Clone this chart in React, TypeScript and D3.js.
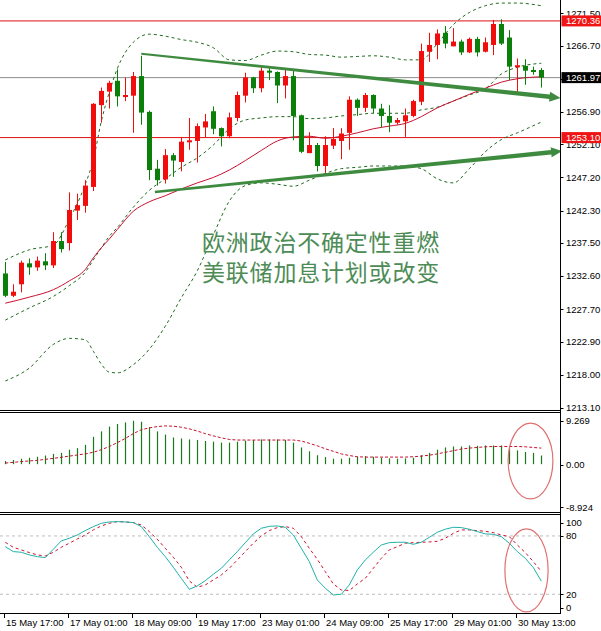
import React from "react";
import * as d3 from "d3";

// XAUUSD H4, 68 candles, oldest first
const timeLabels = ["15 May 17:00", "17 May 01:00", "18 May 09:00", "19 May 17:00", "23 May 01:00", "24 May 09:00", "25 May 17:00", "29 May 01:00", "30 May 13:00"];
const labelEvery = 8;

const opens = [1233.0, 1229.7, 1231.4, 1234.5, 1233.9, 1234.8, 1234.2, 1237.8, 1237.5, 1242.3, 1243.0, 1245.8, 1257.9, 1259.9, 1261.5, 1259.1, 1259.3, 1262.2, 1256.9, 1248.5, 1246.9, 1250.5, 1249.5, 1252.4, 1252.6, 1254.6, 1257.0, 1254.5, 1253.3, 1256.0, 1259.3, 1262.0, 1260.4, 1263.0, 1262.8, 1260.8, 1262.2, 1256.4, 1250.8, 1252.0, 1248.9, 1251.9, 1252.6, 1253.8, 1258.7, 1257.5, 1259.4, 1257.4, 1256.3, 1255.3, 1255.5, 1256.3, 1258.4, 1265.8, 1266.8, 1268.6, 1266.6, 1267.3, 1265.7, 1267.7, 1265.8, 1266.8, 1269.9, 1267.9, 1263.5, 1263.7, 1263.1, 1263.1];
const highs = [1234.7, 1231.4, 1234.9, 1235.2, 1235.5, 1236.0, 1239.1, 1239.1, 1245.0, 1244.8, 1246.8, 1258.2, 1260.5, 1261.5, 1263.2, 1262.0, 1262.8, 1265.2, 1257.1, 1249.8, 1251.4, 1250.8, 1253.2, 1256.0, 1255.2, 1256.6, 1257.7, 1254.6, 1256.8, 1259.9, 1262.7, 1262.1, 1263.7, 1263.4, 1262.9, 1263.4, 1263.0, 1256.5, 1253.9, 1252.3, 1253.3, 1254.5, 1254.5, 1259.2, 1258.9, 1259.7, 1259.5, 1258.1, 1257.9, 1256.0, 1257.4, 1258.7, 1267.0, 1268.6, 1269.1, 1269.6, 1269.3, 1267.6, 1267.9, 1268.0, 1267.9, 1270.5, 1270.6, 1269.0, 1264.8, 1264.7, 1263.6, 1263.4];
const lows = [1229.5, 1229.5, 1230.2, 1232.8, 1233.4, 1233.5, 1233.8, 1236.1, 1236.4, 1240.9, 1242.0, 1245.2, 1255.3, 1257.4, 1257.7, 1258.5, 1253.8, 1255.0, 1246.8, 1246.0, 1246.3, 1247.3, 1248.1, 1251.3, 1249.4, 1253.1, 1253.6, 1251.8, 1253.0, 1255.5, 1258.3, 1259.7, 1259.8, 1261.6, 1258.2, 1258.9, 1252.7, 1250.8, 1250.8, 1248.1, 1247.8, 1251.4, 1249.9, 1251.3, 1256.3, 1256.9, 1256.7, 1254.6, 1253.9, 1255.0, 1253.2, 1256.1, 1257.9, 1264.3, 1264.7, 1266.3, 1266.6, 1265.3, 1265.6, 1265.1, 1265.7, 1265.3, 1266.8, 1261.6, 1259.7, 1260.9, 1262.4, 1260.5];
const closes = [1229.7, 1230.3, 1234.6, 1233.9, 1234.9, 1234.2, 1237.8, 1236.6, 1242.4, 1243.1, 1246.0, 1258.1, 1260.0, 1261.2, 1259.2, 1259.4, 1262.2, 1256.8, 1248.3, 1246.8, 1250.5, 1249.7, 1252.5, 1252.7, 1254.8, 1255.5, 1254.4, 1253.3, 1256.1, 1259.4, 1262.0, 1260.4, 1263.0, 1262.7, 1260.8, 1262.2, 1256.3, 1251.0, 1252.0, 1248.9, 1252.0, 1252.9, 1253.7, 1258.7, 1257.5, 1259.4, 1257.4, 1256.3, 1255.3, 1255.7, 1256.4, 1258.5, 1265.9, 1266.8, 1268.5, 1267.0, 1267.3, 1265.7, 1267.7, 1265.7, 1267.2, 1269.9, 1267.0, 1263.6, 1263.8, 1263.0, 1262.8, 1261.97];

// indicator lines at these candle indexes
const lineIdx = [0, 3, 6, 8, 10, 11, 12, 13, 14, 16, 18, 20, 22, 24, 26, 28, 30, 32, 34, 36, 38, 40, 42, 44, 46, 48, 50, 52, 54, 56, 58, 60, 62, 64, 67];
const bandUpper = [1235.0, 1236.5, 1237.2, 1241.0, 1246.2, 1249.8, 1255.5, 1259.8, 1263.3, 1267.2, 1268.4, 1268.1, 1267.6, 1267.2, 1266.4, 1264.6, 1264.5, 1265.3, 1265.9, 1265.8, 1265.4, 1265.3, 1265.0, 1265.1, 1265.2, 1265.0, 1264.6, 1264.6, 1267.0, 1269.8, 1271.6, 1272.6, 1273.0, 1273.0, 1272.6];
const bandMiddle = [1226.1, 1227.9, 1229.6, 1231.2, 1233.2, 1235.0, 1236.8, 1238.5, 1239.8, 1242.8, 1245.3, 1247.0, 1248.7, 1250.1, 1252.0, 1254.4, 1255.7, 1256.0, 1256.2, 1256.2, 1255.9, 1256.0, 1256.3, 1256.5, 1256.7, 1256.7, 1256.7, 1257.2, 1257.6, 1258.5, 1259.4, 1260.3, 1262.5, 1263.5, 1264.1];
const bandLower = [1217.1, 1219.0, 1222.5, 1223.4, 1223.2, 1221.5, 1219.6, 1218.4, 1218.3, 1219.5, 1221.8, 1225.2, 1229.4, 1233.4, 1238.7, 1243.7, 1246.0, 1246.4, 1246.2, 1245.9, 1246.8, 1247.8, 1248.5, 1248.7, 1248.9, 1248.9, 1248.9, 1248.5, 1247.0, 1246.4, 1248.5, 1251.0, 1252.8, 1253.8, 1255.4];
const maRed = [1228.6, 1229.5, 1230.6, 1231.9, 1233.6, 1235.3, 1236.8, 1238.1, 1239.5, 1242.2, 1243.6, 1244.5, 1245.5, 1246.4, 1247.2, 1248.3, 1249.7, 1251.2, 1252.6, 1253.2, 1253.3, 1253.0, 1253.3, 1253.8, 1254.4, 1254.8, 1255.2, 1256.2, 1257.5, 1258.5, 1259.5, 1260.4, 1261.3, 1261.8, 1262.1];

const macdHist = [0.59, 0.77, 1.01, 1.19, 1.37, 1.60, 1.90, 2.08, 2.67, 2.97, 3.57, 5.05, 6.06, 6.95, 7.43, 7.72, 8.02, 7.84, 6.83, 6.06, 5.47, 4.93, 4.75, 4.57, 4.46, 4.28, 4.16, 3.98, 3.98, 4.16, 4.34, 4.46, 4.57, 4.57, 4.57, 4.46, 3.98, 3.09, 2.38, 1.66, 1.31, 1.01, 1.01, 1.19, 1.37, 1.49, 1.37, 1.19, 1.07, 1.01, 1.07, 1.19, 1.66, 2.08, 2.67, 3.09, 3.27, 3.27, 3.45, 3.39, 3.45, 3.45, 3.45, 3.27, 2.55, 2.26, 2.08, 1.60];
const macdSignal = [0.20, 0.34, 0.48, 0.60, 0.71, 0.89, 1.07, 1.28, 1.49, 1.70, 1.90, 2.20, 2.67, 3.27, 3.98, 4.75, 5.64, 6.36, 6.71, 6.95, 7.07, 7.01, 6.83, 6.53, 6.12, 5.64, 5.23, 4.87, 4.57, 4.46, 4.46, 4.46, 4.46, 4.46, 4.46, 4.46, 4.46, 4.28, 3.86, 3.39, 2.85, 2.38, 1.90, 1.60, 1.37, 1.31, 1.31, 1.31, 1.31, 1.31, 1.31, 1.37, 1.49, 1.66, 1.90, 2.20, 2.49, 2.79, 2.97, 3.09, 3.21, 3.27, 3.27, 3.27, 3.27, 3.21, 3.09, 2.97];
const macdMax = 9.269;
const macdMin = -8.924;

const stochK = [69.0, 63.9, 63.2, 60.5, 58.7, 57.7, 66.3, 74.9, 77.6, 81.0, 85.5, 89.6, 93.0, 94.4, 94.7, 94.4, 93.7, 89.6, 79.3, 68.3, 58.7, 47.8, 36.4, 25.1, 28.6, 34.0, 40.6, 46.7, 55.3, 63.9, 73.1, 82.1, 87.9, 89.9, 90.3, 88.9, 81.0, 67.3, 53.6, 34.7, 26.2, 19.3, 20.0, 29.6, 45.0, 55.3, 63.2, 70.7, 73.1, 73.5, 73.5, 71.4, 73.5, 78.6, 83.8, 86.9, 88.9, 88.6, 86.9, 84.5, 82.1, 81.7, 79.3, 72.5, 63.9, 57.0, 47.5, 33.5];
const stochD = [73.5, 68.3, 65.6, 62.9, 60.5, 59.4, 63.2, 68.3, 72.5, 76.9, 81.0, 86.2, 90.3, 93.0, 94.7, 94.4, 93.7, 91.3, 84.5, 76.6, 67.3, 58.1, 47.8, 33.7, 27.2, 29.6, 34.7, 39.9, 46.7, 55.3, 63.9, 72.5, 80.0, 85.5, 88.6, 89.6, 87.9, 79.3, 67.3, 56.0, 43.3, 30.6, 24.4, 23.8, 30.6, 36.4, 46.7, 57.0, 65.6, 69.0, 72.5, 73.1, 73.5, 73.8, 74.5, 77.6, 82.7, 86.2, 86.2, 85.5, 84.8, 83.4, 81.0, 79.3, 70.7, 62.9, 53.6, 43.5];
const stochLevels = [80, 20];
const stochLabels = [100, 80, 20, 0];

const priceTicks = [1271.5, 1266.7, 1261.8, 1256.9, 1252.1, 1247.2, 1242.3, 1237.5, 1232.6, 1227.7, 1222.9, 1218.0, 1213.1];
const resistance = 1270.36;
const support = 1253.1;
const lastPrice = 1261.97;

// trendlines: [candle index, price]
const upperTrend = [[17, 1265.5], [69.4, 1258.96]];
const lowerTrend = [[18.7, 1245.05], [69.6, 1251.1]];

const note = ["欧洲政治不确定性重燃", "美联储加息计划或改变"];

const UP = "#f20d0d";
const DOWN = "#0a800a";
const FONT = "'Liberation Sans', Arial, sans-serif";

function arrowPath(x1: number, y1: number, x2: number, y2: number, w1: number, w2: number, headLen: number, headW: number) {
  const len = Math.hypot(x2 - x1, y2 - y1);
  const ux = (x2 - x1) / len, uy = (y2 - y1) / len;
  const nx = -uy, ny = ux;
  const bx = x2 - ux * headLen, by = y2 - uy * headLen;
  const pts = [
    [x1 + nx * w1 / 2, y1 + ny * w1 / 2],
    [bx + nx * w2 / 2, by + ny * w2 / 2],
    [bx + nx * headW / 2, by + ny * headW / 2],
    [x2, y2],
    [bx - nx * headW / 2, by - ny * headW / 2],
    [bx - nx * w2 / 2, by - ny * w2 / 2],
    [x1 - nx * w1 / 2, y1 - ny * w1 / 2],
  ];
  return "M" + pts.map(p => p[0].toFixed(2) + "," + p[1].toFixed(2)).join("L") + "Z";
}

export default function App() {
  const W = 601, H = 631;
  const axisX = 560.5;
  const n = closes.length;

  const x = d3.scaleLinear().domain([0, n - 1]).range([5.3, 5.3 + 8 * (n - 1)]);
  const yPrice = d3.scaleLinear().domain([1213.1, 1271.5]).range([408, 13.2]);
  const yMacd = d3.scaleLinear().domain([macdMin, macdMax]).range([512.5, 414]);
  const yStoch = d3.scaleLinear().domain([0, 100]).range([613.7, 516.5]);

  const bandGen = d3.line<number>()
    .x((_, i) => x(lineIdx[i]))
    .y(v => yPrice(v))
    .curve(d3.curveMonotoneX);

  const signalGen = d3.line<number>().x((_, i) => x(i)).y(v => yMacd(v));
  const stochGen = d3.line<number>().x((_, i) => x(i)).y(v => yStoch(v));

  const up = upperTrend.map(([i, p]) => [x(i), yPrice(p)]);
  const lo = lowerTrend.map(([i, p]) => [x(i), yPrice(p)]);

  const macdEll = { cx: x(65.65), cy: yMacd(0.6), rx: x(68.45) - x(65.65), ry: yMacd(0) - yMacd(7.0) };
  const stochEll = { cx: x(65.15), cy: yStoch(44.5), rx: x(67.85) - x(65.15), ry: yStoch(0) - yStoch(42.7) };

  const levelBox = (v: number, fill: string) => {
    const cy = yPrice(v);
    return (
      <g key={"box" + v}>
        <rect x={axisX + 1} y={cy - 5.5} width={W - axisX - 1} height={11} fill={fill} />
        <text x={566} y={cy} dy="0.35em" fontSize={9.5} fontFamily={FONT} fill="#fff">{v.toFixed(2)}</text>
      </g>
    );
  };

  return (
    <svg width={W} height={H} style={{ position: "absolute", left: 0, top: 0, background: "#fff" }}>
      <defs>
        <clipPath id="mainClip"><rect x={0} y={0} width={axisX} height={410} /></clipPath>
      </defs>

      {/* main price panel */}
      <g clipPath="url(#mainClip)">
        <line x1={0} x2={axisX} y1={yPrice(resistance)} y2={yPrice(resistance)} stroke="#e01010" strokeWidth={1} />
        <line x1={0} x2={axisX} y1={yPrice(support)} y2={yPrice(support)} stroke="#e01010" strokeWidth={1} />
        <line x1={0} x2={axisX} y1={yPrice(lastPrice)} y2={yPrice(lastPrice)} stroke="#8c8c8c" strokeWidth={1} />

        {[bandUpper, bandMiddle, bandLower].map((b, i) => (
          <path key={"band" + i} d={bandGen(b) || ""} fill="none" stroke="#1f6b1f" strokeWidth={1} strokeDasharray="3 3" />
        ))}
        <path d={bandGen(maRed) || ""} fill="none" stroke="#c8102e" strokeWidth={1} />

        {closes.map((c, i) => {
          const o = opens[i];
          const col = c >= o ? UP : DOWN;
          const cx = Math.round(x(i));
          const top = yPrice(Math.max(o, c));
          const bot = yPrice(Math.min(o, c));
          return (
            <g key={"c" + i}>
              <line x1={cx + 0.5} x2={cx + 0.5} y1={yPrice(highs[i])} y2={yPrice(lows[i])} stroke={col} strokeWidth={1} />
              <rect x={cx - 2} y={top} width={5} height={Math.max(1, bot - top)} fill={col} />
            </g>
          );
        })}

        <path d={arrowPath(up[0][0], up[0][1], up[1][0], up[1][1], 2, 4.5, 11, 10)} fill="#3e8b40" />
        <path d={arrowPath(lo[0][0], lo[0][1], lo[1][0], lo[1][1], 2.5, 4.5, 11, 10)} fill="#3e8b40" />

        {note.map((t, i) => (
          <text key={"note" + i} x={202} y={251 + i * 30} fontSize={23} letterSpacing={0.8}
            fontFamily="'Noto Sans CJK SC', sans-serif" fill="#4d8c56">{t}</text>
        ))}
      </g>

      {/* MACD panel */}
      {macdHist.map((v, i) => (
        <line key={"m" + i} x1={Math.round(x(i)) + 0.5} x2={Math.round(x(i)) + 0.5}
          y1={yMacd(0)} y2={yMacd(v)} stroke="#1a7a1a" strokeWidth={1.2} />
      ))}
      <path d={signalGen(macdSignal) || ""} fill="none" stroke="#c8102e" strokeWidth={1} strokeDasharray="3 2" />
      <ellipse cx={macdEll.cx} cy={macdEll.cy} rx={macdEll.rx} ry={macdEll.ry} fill="none" stroke="#e07070" strokeWidth={1.2} />

      {/* Stochastic panel */}
      {stochLevels.map(l => (
        <line key={"lv" + l} x1={0} x2={axisX} y1={yStoch(l)} y2={yStoch(l)} stroke="#bdbdbd" strokeWidth={1} strokeDasharray="3 3" />
      ))}
      <path d={stochGen(stochD) || ""} fill="none" stroke="#d0102e" strokeWidth={1} strokeDasharray="3 3" />
      <path d={stochGen(stochK) || ""} fill="none" stroke="#20b2aa" strokeWidth={1} />
      <ellipse cx={stochEll.cx} cy={stochEll.cy} rx={stochEll.rx} ry={stochEll.ry} fill="none" stroke="#e07070" strokeWidth={1.2} />

      {/* frames */}
      <line x1={0} x2={axisX} y1={410.5} y2={410.5} stroke="#000" />
      <line x1={0} x2={axisX} y1={412.5} y2={412.5} stroke="#000" />
      <line x1={0} x2={axisX} y1={512.5} y2={512.5} stroke="#000" />
      <line x1={0} x2={axisX} y1={514.5} y2={514.5} stroke="#000" />
      <line x1={0} x2={axisX} y1={613.5} y2={613.5} stroke="#000" />
      <line x1={axisX} x2={axisX} y1={0} y2={614} stroke="#000" />

      {/* price axis */}
      {priceTicks.map(t => (
        <g key={"pt" + t}>
          <line x1={axisX} x2={axisX + 3} y1={Math.round(yPrice(t)) + 0.5} y2={Math.round(yPrice(t)) + 0.5} stroke="#000" />
          <text x={566} y={yPrice(t)} dy="0.35em" fontSize={9.5} fontFamily={FONT} fill="#000">{t.toFixed(2)}</text>
        </g>
      ))}
      {levelBox(resistance, "#f01414")}
      {levelBox(lastPrice, "#000")}
      {levelBox(support, "#f01414")}

      {/* MACD axis */}
      {[macdMax, 0, macdMin].map((v, i) => {
        const yy = [420.7, 465, 507.3][i];
        return (
          <g key={"ma" + i}>
            <line x1={axisX} x2={axisX + 3} y1={Math.round(yy) + 0.5} y2={Math.round(yy) + 0.5} stroke="#000" />
            <text x={566} y={yy} dy="0.35em" fontSize={9.5} fontFamily={FONT} fill="#000">
              {i === 1 ? "0.00" : v.toFixed(3)}
            </text>
          </g>
        );
      })}

      {/* Stochastic axis */}
      {stochLabels.map(v => {
        const yy = Math.min(Math.max(yStoch(v), 523), 607.5);
        return (
          <g key={"sa" + v}>
            <line x1={axisX} x2={axisX + 3} y1={Math.round(yy) + 0.5} y2={Math.round(yy) + 0.5} stroke="#000" />
            <text x={566} y={yy} dy="0.35em" fontSize={9.5} fontFamily={FONT} fill="#000">{v}</text>
          </g>
        );
      })}

      {/* time axis */}
      {timeLabels.map((t, i) => {
        const tx = Math.round(x(i * labelEvery)) - 0.5;
        return (
          <g key={"tl" + i}>
            <line x1={tx} x2={tx} y1={614} y2={618} stroke="#000" />
            <text x={tx + 1.5} y={626} fontSize={9.5} fontFamily={FONT} fill="#000">{t}</text>
          </g>
        );
      })}
    </svg>
  );
}
